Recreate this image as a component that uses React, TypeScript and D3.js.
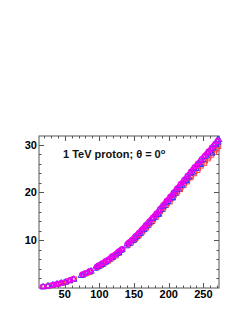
import * as d3 from "d3";
import { useEffect, useRef } from "react";

// x, y values
const redPoints: [number, number][] = [
  [20, 0.3], [27, 0.4], [34, 0.6], [41, 0.8], [47, 1.0], [52, 1.2], [58, 1.5], [64, 1.9],
  [77, 2.7], [82, 3.0], [87, 3.3], [97, 4.3], [98, 4.4], [103, 4.7], [105, 5.0], [108, 5.2],
  [112, 5.7], [113, 5.6], [118, 6.1], [120, 6.5], [124, 6.7], [127, 7.2], [129, 7.3], [134, 8.0],
  [142, 9.0], [146, 9.4], [150, 9.9], [152, 10.2], [153, 10.4], [157, 10.9], [158, 11.1],
  [162, 11.7], [163, 11.9], [167, 12.4], [168, 12.6], [172, 13.2], [173, 13.5], [177, 13.9],
  [178, 14.3], [182, 14.8], [183, 15.1], [187, 15.5], [188, 16.0], [192, 16.4], [193, 16.8],
  [197, 17.3], [198, 17.7], [202, 18.0], [203, 18.5], [207, 18.9], [208, 19.4], [212, 19.8],
  [213, 20.2], [217, 20.6], [218, 21.1], [222, 21.4], [223, 21.9], [227, 22.2], [228, 22.8],
  [232, 23.1], [233, 23.4], [237, 23.9], [238, 24.3], [242, 24.6], [243, 25.0], [247, 25.5],
  [248, 25.9], [252, 26.1], [253, 26.6], [257, 27.0], [258, 27.4], [262, 27.8], [263, 28.2],
  [266, 28.4], [268, 28.9], [270, 29.2], [272, 29.6],
];

const bluePoints: [number, number][] = [
  [19, 0.2], [26, 0.4], [33, 0.6], [39, 0.8], [45, 1.0], [51, 1.2], [57, 1.5], [63, 1.8],
  [74, 2.6], [78, 2.9], [84, 3.3], [88, 3.5], [94, 4.1], [97, 4.5], [99, 4.5], [102, 4.9],
  [104, 4.9], [107, 5.4], [109, 5.4], [114, 5.9], [117, 6.4], [119, 6.4], [123, 6.9],
  [125, 7.2], [128, 7.4], [130, 7.8], [132, 8.0], [139, 8.8], [143, 9.3], [146, 9.8],
  [149, 10.0], [151, 10.5], [154, 10.7], [156, 11.3], [159, 11.4], [161, 12.1], [164, 12.2],
  [166, 12.9], [169, 13.0], [171, 13.6], [174, 13.8], [176, 14.5], [179, 14.7], [181, 15.3],
  [184, 15.4], [185, 15.4], [186, 16.2], [189, 16.4], [191, 17.0], [194, 17.2], [196, 17.9],
  [199, 18.1], [201, 18.8], [204, 18.9], [205, 18.8], [206, 19.6], [209, 19.8], [211, 20.5],
  [214, 20.7], [216, 21.4], [219, 21.5], [221, 22.3], [224, 22.4], [225, 22.5], [226, 23.2],
  [229, 23.2], [231, 24.0], [234, 24.2], [236, 25.0], [239, 25.0], [241, 25.8], [244, 25.9],
  [245, 25.8], [246, 26.7], [249, 26.8], [251, 27.5], [254, 27.6], [256, 28.3], [259, 28.6],
  [261, 29.1], [262, 28.2], [264, 29.3], [266, 29.9], [268, 30.0], [270, 30.8], [271, 30.5],
  [272, 31.0],
];

const magentaPoints: [number, number][] = [
  [18, 0.3], [25, 0.4], [31, 0.6], [35, 0.7], [38, 0.8], [42, 0.9], [44, 1.0], [49, 1.2],
  [55, 1.5], [58, 1.7], [62, 1.9], [75, 2.8], [76, 2.9], [80, 3.1], [83, 3.3], [86, 3.5],
  [87, 3.6], [96, 4.4], [98, 4.7], [101, 4.8], [103, 5.1], [106, 5.3], [108, 5.5], [111, 5.8],
  [113, 6.0], [116, 6.3], [118, 6.6], [121, 6.8], [123, 7.1], [126, 7.4], [128, 7.7],
  [131, 8.0], [133, 8.2], [140, 9.2], [142, 9.5], [144, 9.7], [147, 10.1], [150, 10.5],
  [152, 10.9], [155, 11.2], [157, 11.6], [160, 12.0], [162, 12.4], [165, 12.8], [167, 13.2],
  [170, 13.6], [172, 14.0], [175, 14.4], [177, 14.8], [180, 15.2], [182, 15.6], [185, 16.0],
  [187, 16.5], [190, 16.9], [192, 17.4], [195, 17.8], [197, 18.3], [200, 18.6], [202, 19.1],
  [205, 19.5], [207, 20.0], [210, 20.4], [212, 20.9], [215, 21.2], [217, 21.8], [220, 22.1],
  [222, 22.6], [225, 23.0], [227, 23.5], [230, 23.9], [232, 24.4], [235, 24.8], [237, 25.3],
  [240, 25.6], [242, 26.1], [245, 26.4], [247, 26.9], [250, 27.3], [252, 27.7], [255, 28.1],
  [257, 28.6], [260, 28.9], [262, 29.4], [265, 29.8], [267, 30.2], [270, 30.7], [271, 30.9],
];

const xTicks = [50, 100, 150, 200, 250];
const yTicks = [10, 20, 30];

export default function App() {
  const svgRef = useRef<SVGSVGElement>(null);

  useEffect(() => {
    if (!svgRef.current) return;
    const svg = d3.select(svgRef.current);
    svg.selectAll("*").remove();

    const left = 39;
    const right = 219;
    const top = 136;
    const bottom = 288;

    const x = d3.scaleLinear().domain([13, 272.5]).range([left, right]);
    const y = d3.scaleLinear().domain([0, 31.8]).range([bottom, top]);

    const frameColor = "#555";
    const font = "'Liberation Sans', Arial, sans-serif";

    // frame
    svg.append("rect")
      .attr("x", left).attr("y", top)
      .attr("width", right - left).attr("height", bottom - top)
      .attr("fill", "white").attr("stroke", frameColor).attr("stroke-width", 1);

    // ticks (inside, on all four sides)
    const ticks = svg.append("g").attr("stroke", frameColor).attr("stroke-width", 1);
    d3.range(20, 271, 10).forEach((v) => {
      const len = v % 50 === 0 ? 5 : 2.5;
      const px = Math.round(x(v)) + 0.5;
      ticks.append("line").attr("x1", px).attr("x2", px).attr("y1", bottom).attr("y2", bottom - len);
      ticks.append("line").attr("x1", px).attr("x2", px).attr("y1", top).attr("y2", top + len);
    });
    d3.range(2, 31, 2).forEach((v) => {
      const len = v % 10 === 0 ? 5 : 2.5;
      const py = Math.round(y(v)) + 0.5;
      ticks.append("line").attr("x1", left).attr("x2", left + len).attr("y1", py).attr("y2", py);
      ticks.append("line").attr("x1", right).attr("x2", right - len).attr("y1", py).attr("y2", py);
    });

    // tick labels
    svg.append("g")
      .selectAll("text")
      .data(xTicks)
      .join("text")
      .attr("x", (d) => x(d))
      .attr("y", bottom + 10)
      .attr("text-anchor", "middle")
      .attr("font-family", font)
      .attr("font-weight", "bold")
      .attr("font-size", 11)
      .text((d) => d);

    svg.append("g")
      .selectAll("text")
      .data(yTicks)
      .join("text")
      .attr("x", left - 2)
      .attr("y", (d) => y(d) + 4)
      .attr("text-anchor", "end")
      .attr("font-family", font)
      .attr("font-weight", "bold")
      .attr("font-size", 11)
      .text((d) => d);

    const plot = svg.append("g");

    // red open squares
    plot.selectAll(".red")
      .data(redPoints)
      .join("rect")
      .attr("x", (d) => x(d[0]) - 2)
      .attr("y", (d) => y(d[1]) - 2)
      .attr("width", 4)
      .attr("height", 4)
      .attr("fill", "none")
      .attr("stroke", "#ff4040")
      .attr("stroke-width", 1);

    // blue open triangles
    const tri = d3.symbol().type(d3.symbolTriangle).size(18);
    plot.selectAll(".blue")
      .data(bluePoints)
      .join("path")
      .attr("d", tri)
      .attr("transform", (d) => `translate(${x(d[0])},${y(d[1])})`)
      .attr("fill", "none")
      .attr("stroke", "#3535ff")
      .attr("stroke-width", 1);

    // magenta open circles
    plot.selectAll(".magenta")
      .data(magentaPoints)
      .join("circle")
      .attr("cx", (d) => x(d[0]))
      .attr("cy", (d) => y(d[1]))
      .attr("r", 2.3)
      .attr("fill", "none")
      .attr("stroke", "#f000f0")
      .attr("stroke-width", 1.1);

    // label
    const label = svg.append("text")
      .attr("x", 63)
      .attr("y", 158)
      .attr("font-family", font)
      .attr("font-weight", "bold")
      .attr("font-size", 11)
      .attr("fill", "#111");
    label.append("tspan").text("1 TeV proton; \u03b8 = 0");
    label.append("tspan").attr("dy", -4.5).attr("font-size", 7.5).text("o");
  }, []);

  return (
    <svg
      ref={svgRef}
      width={247}
      height={319}
      style={{ position: "absolute", left: 0, top: 0, background: "white" }}
    />
  );
}
